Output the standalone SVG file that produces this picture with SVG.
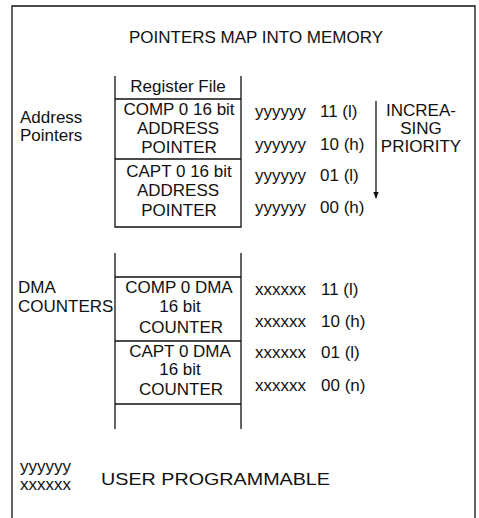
<svg xmlns="http://www.w3.org/2000/svg" width="479" height="518" viewBox="0 0 479 518">
<defs>
<style>
text{font-family:"Liberation Sans",Arial,sans-serif;font-size:17px;fill:#111;}
.c{text-anchor:middle;}
.ln{stroke:#111;stroke-width:1.3;fill:none;}
</style>
<marker id="ah" viewBox="0 0 10 10" refX="9" refY="5" markerWidth="7" markerHeight="7" orient="auto" markerUnits="userSpaceOnUse">
<path d="M0,1 L10,5 L0,9 Z" fill="#111"/>
</marker>
</defs>
<rect width="479" height="518" fill="#fff"/>
<g id="frame">
<path class="ln" d="M12,518 V6 H475 V518"/>
</g>
<g id="title"><text class="c" x="256" y="43" font-size="16.5">POINTERS MAP INTO MEMORY</text></g>

<g id="address-label">
<text x="20" y="123">Address</text>
<text x="20" y="141">Pointers</text>
</g>

<g id="register-file">
<path class="ln" d="M115,76 V227 H241 V76 M115,99 H241 M115,159 H241"/>
<text class="c" x="178" y="92">Register File</text>
</g>
<g id="comp0-address">
<text class="c" x="179" y="115">COMP 0 16 bit</text>
<text class="c" x="178" y="134">ADDRESS</text>
<text class="c" x="179" y="153">POINTER</text>
</g>
<g id="capt0-address">
<text class="c" x="179" y="177">CAPT 0 16 bit</text>
<text class="c" x="178" y="196">ADDRESS</text>
<text class="c" x="179" y="216">POINTER</text>
</g>

<g id="address-map">
<text x="255" y="117">yyyyyy</text><text x="320" y="117">11 (l)</text>
<text x="255" y="150">yyyyyy</text><text x="320" y="150">10 (h)</text>
<text x="255" y="181">yyyyyy</text><text x="320" y="181">01 (l)</text>
<text x="255" y="213">yyyyyy</text><text x="320" y="213">00 (h)</text>
</g>

<g id="priority">
<text class="c" x="421" y="116">INCREA-</text>
<text class="c" x="421" y="134">SING</text>
<text class="c" x="421" y="152">PRIORITY</text>
</g>

<g id="connectors">
<line class="ln" x1="376" y1="101" x2="376" y2="198" marker-end="url(#ah)"/>
</g>

<g id="dma-label">
<text x="18" y="293">DMA</text>
<text x="18" y="312">COUNTERS</text>
</g>

<g id="dma-file">
<path class="ln" d="M115,253 V429 M241,253 V429 M115,277 H241 M115,341 H241 M115,404 H241"/>
</g>
<g id="comp0-dma">
<text class="c" x="179" y="293">COMP 0 DMA</text>
<text class="c" x="180" y="312">16 bit</text>
<text class="c" x="181" y="333">COUNTER</text>
</g>
<g id="capt0-dma">
<text class="c" x="180" y="357">CAPT 0 DMA</text>
<text class="c" x="180" y="375">16 bit</text>
<text class="c" x="181" y="395">COUNTER</text>
</g>

<g id="dma-map">
<text x="255" y="295">xxxxxx</text><text x="321" y="295">11 (l)</text>
<text x="255" y="327">xxxxxx</text><text x="321" y="327">10 (h)</text>
<text x="255" y="358">xxxxxx</text><text x="321" y="358">01 (l)</text>
<text x="255" y="391">xxxxxx</text><text x="321" y="391">00 (n)</text>
</g>

<g id="legend">
<text x="20" y="472">yyyyyy</text>
<text x="20" y="490">xxxxxx</text>
<text x="101" y="485" textLength="229" lengthAdjust="spacingAndGlyphs">USER PROGRAMMABLE</text>
</g>
</svg>
